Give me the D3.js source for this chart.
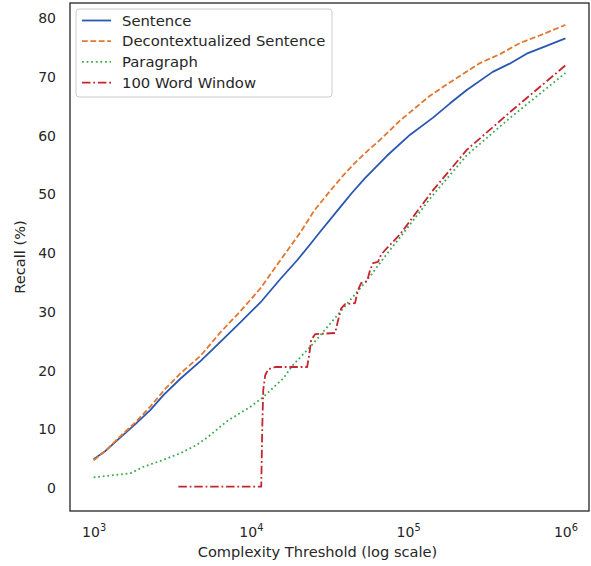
<!DOCTYPE html>
<html>
<head>
<meta charset="utf-8">
<script src="https://cdn.jsdelivr.net/npm/d3@7"></script>
<style>
  body { margin: 0; background: #fff; }
  text { font-family: "DejaVu Sans", sans-serif; fill: #262626; }
</style>
</head>
<body>
<script>
// Sentence
var sentenceX = [1000, 1190, 1440, 1850, 2300, 2780, 3560, 4780, 6400, 8570, 11500, 15400, 19700, 24000, 27500, 36900, 44000, 53200, 73300, 103000, 144000, 184000, 236000, 345000, 442000, 567000, 738000, 1000000];
var sentenceY = [4.9, 6.3, 8.3, 10.9, 13.3, 15.8, 18.6, 21.6, 24.9, 28.2, 31.6, 35.6, 38.8, 41.6, 43.6, 47.8, 50.3, 52.8, 56.6, 60.2, 63.1, 65.5, 67.8, 70.9, 72.3, 74.0, 75.2, 76.6];

// Decontextualized Sentence
var decontextX = [1000, 1190, 1440, 1850, 2300, 2860, 3560, 4780, 6400, 8570, 11500, 15400, 20600, 25500, 31900, 38500, 45900, 55000, 66200, 88800, 137000, 184000, 286000, 382000, 512000, 686000, 1000000];
var decontextY = [4.7, 6.3, 8.5, 11.2, 13.9, 16.9, 19.5, 22.5, 26.5, 30.1, 34.0, 38.8, 43.5, 47.4, 50.6, 53.2, 55.4, 57.4, 59.3, 62.6, 66.8, 69.1, 72.4, 73.9, 75.8, 77.1, 78.9];

// Paragraph
var paragraphX = [1000, 1280, 1720, 2080, 2660, 3560, 4440, 5290, 7080, 9910, 12000, 16100, 18600, 23800, 33400, 54800, 71000, 88800, 143700, 236000, 442000, 1000000];
var paragraphY = [1.8, 2.1, 2.5, 3.6, 4.6, 5.9, 7.2, 8.6, 11.4, 13.8, 15.5, 18.7, 21.0, 24.0, 28.6, 35.4, 39.4, 42.7, 49.9, 56.7, 63.0, 70.7];

// 100 Word Window
var windowX = [3460, 11640, 11810, 11990, 12340, 12890, 14280, 22800, 23480, 24170, 25630, 34350, 35900, 37510, 39740, 45940, 47990, 50190, 54790, 57260, 59830, 64330, 67190, 71220, 88760, 143700, 236000, 442500, 1000000];
var windowY = [0.2, 0.2, 10, 16.7, 19.2, 20.2, 20.6, 20.6, 22.6, 25.2, 26.2, 26.4, 28.6, 30.6, 31.3, 31.5, 33.7, 34.9, 35.2, 37.1, 38.3, 38.5, 39.7, 40.5, 43.2, 50.7, 57.6, 64.0, 72.0];

var xTicks = [1e3, 1e4, 1e5, 1e6];
var yTicks = [0, 10, 20, 30, 40, 50, 60, 70, 80];

var series = [
  {name: "Sentence", xs: sentenceX, ys: sentenceY, color: "#2a57b0", dash: null},
  {name: "Decontextualized Sentence", xs: decontextX, ys: decontextY, color: "#e3762e", dash: "5.8,2.6"},
  {name: "Paragraph", xs: paragraphX, ys: paragraphY, color: "#3caa52", dash: "1.8,2.8"},
  {name: "100 Word Window", xs: windowX, ys: windowY, color: "#c6252f", dash: "8.5,2.8,1.8,2.8"}
];

var margin = {top: 3, right: 2, bottom: 55, left: 70},
    width = 591 - margin.left - margin.right,
    height = 566 - margin.top - margin.bottom;

var svg = d3.select("body")
    .append("svg")
    .attr("width", 591)
    .attr("height", 566);

var g = svg.append("g")
    .attr("transform", "translate(" + margin.left + "," + margin.top + ")");

// log x with matplotlib style 5% margins
var x = d3.scaleLog()
    .domain([Math.pow(10, 2.85), Math.pow(10, 6.15)])
    .range([0, width]);

var y = d3.scaleLinear()
    .domain([-3.94, 82.64])
    .range([height, 0]);

var line = d3.line()
    .x(function(d) { return x(d[0]); })
    .y(function(d) { return y(d[1]); });

// y axis labels
g.append("g")
    .call(d3.axisLeft(y).tickValues(yTicks).tickSize(0).tickPadding(14))
    .call(function(s) { s.select(".domain").remove(); })
    .selectAll("text")
      .style("font-size", "14px")
      .style("font-family", "DejaVu Sans")
      .attr("fill", "#262626");

// x axis labels with superscripts
var xAxisG = g.append("g")
    .attr("transform", "translate(0," + height + ")")
    .call(d3.axisBottom(x).tickValues(xTicks).tickSize(0).tickFormat(""))
    .call(function(s) { s.select(".domain").remove(); });

xAxisG.selectAll(".tick").each(function(d) {
  var t = d3.select(this).select("text")
      .attr("y", 26)
      .attr("dy", null)
      .style("font-size", "14px")
      .style("font-family", "DejaVu Sans")
      .attr("fill", "#262626");
  t.text(null);
  t.append("tspan").text("10");
  t.append("tspan")
      .attr("dy", -6)
      .style("font-size", "9.8px")
      .text(Math.round(Math.log10(d)));
});

// axis titles
g.append("text")
    .attr("x", width / 2 - 12)
    .attr("y", height + 46)
    .attr("text-anchor", "middle")
    .style("font-size", "14.6px")
    .text("Complexity Threshold (log scale)");

g.append("text")
    .attr("transform", "rotate(-90)")
    .attr("x", -height / 2)
    .attr("y", -45)
    .attr("text-anchor", "middle")
    .style("font-size", "14.6px")
    .text("Recall (%)");

// lines
series.forEach(function(s) {
  var pts = s.xs.map(function(v, i) { return [v, s.ys[i]]; });
  g.append("path")
      .datum(pts)
      .attr("fill", "none")
      .attr("stroke", s.color)
      .attr("stroke-width", 1.8)
      .attr("stroke-linejoin", "round")
      .attr("stroke-dasharray", s.dash)
      .attr("d", line);
});

// frame
g.append("rect")
    .attr("width", width)
    .attr("height", height)
    .attr("fill", "none")
    .attr("stroke", "#262626")
    .attr("stroke-width", 1.3);

// legend
var legend = g.append("g")
    .attr("transform", "translate(6,6)");

legend.append("rect")
    .attr("width", 256)
    .attr("height", 88)
    .attr("rx", 3)
    .attr("fill", "#fff")
    .attr("fill-opacity", 0.8)
    .attr("stroke", "#cccccc")
    .attr("stroke-width", 1);

var item = legend.selectAll(".item")
    .data(series)
    .enter().append("g")
      .attr("class", "item")
      .attr("transform", function(d, i) { return "translate(0," + (11.5 + i * 20.7) + ")"; });

item.append("line")
    .attr("x1", 6)
    .attr("x2", 35)
    .attr("stroke", function(d) { return d.color; })
    .attr("stroke-width", 1.8)
    .attr("stroke-dasharray", function(d) { return d.dash; });

item.append("text")
    .attr("x", 46)
    .attr("dy", "0.35em")
    .style("font-size", "14.8px")
    .text(function(d) { return d.name; });
</script>
</body>
</html>
